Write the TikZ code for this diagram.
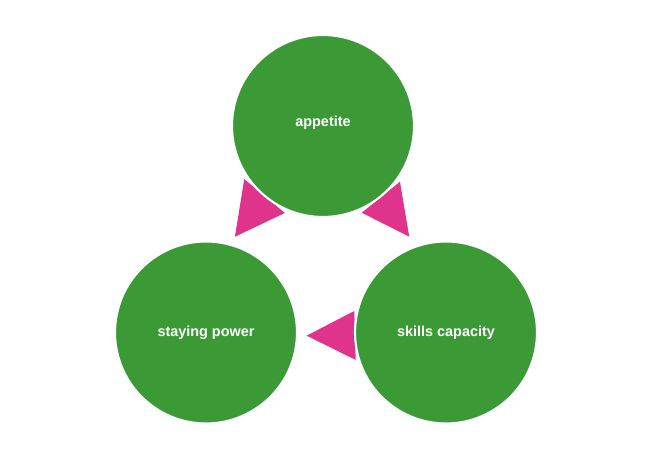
\documentclass[tikz,border=0pt]{standalone}
\usepackage{fontspec}
\setmainfont{Liberation Sans}
\usetikzlibrary{calc}
\definecolor{leafgreen}{RGB}{59,154,54}
\definecolor{pinkhead}{RGB}{224,51,140}

\begin{document}
\begin{tikzpicture}[x=0.02cm, y=0.02cm]

 \tikzset{
   bubble/.style={circle, draw=white, line width=1.2pt, fill=leafgreen, minimum size=3.64cm, inner sep=0pt, text=white, font=\fontsize{8.2}{10}\selectfont\bfseries},
   head/.style={fill=pinkhead}
 }

 % Canvas
 \useasboundingbox (0,0) rectangle (650,462);

 % Circle centres
 \def\xposApp{323}
 \def\xposStay{206}
 \def\xposSkill{446}
 \def\levelTop{336}
 \def\levelLow{129.5}

 % Arrow heads (under the circles)
 \fill[head] ($(\xposApp,\levelTop)+(214:95)$) -- ($(\xposApp,\levelTop)+(246.3:95)$) -- ($(\xposStay,\levelLow)+(73.2:100)$) -- cycle;
 \fill[head] ($(\xposApp,\levelTop)+(-35.9:95)$) -- ($(\xposApp,\levelTop)+(-65.9:95)$) -- ($(\xposSkill,\levelLow)+(111:102.6)$) -- cycle;
 \fill[head] ($(\xposSkill,\levelLow)+(166.8:94.2)$) -- ($(\xposSkill,\levelLow)+(196.9:94.4)$) -- ($(\xposStay,\levelLow)+(-1.8:100.7)$) -- cycle;

 % Circles
 \node[bubble, text depth=0.19cm] (appetite) at (\xposApp, \levelTop) {appetite};
 \node[bubble] (staying) at (\xposStay, \levelLow) {staying power};
 \node[bubble] (skills) at (\xposSkill, \levelLow) {skills capacity};

\end{tikzpicture}
\end{document}
